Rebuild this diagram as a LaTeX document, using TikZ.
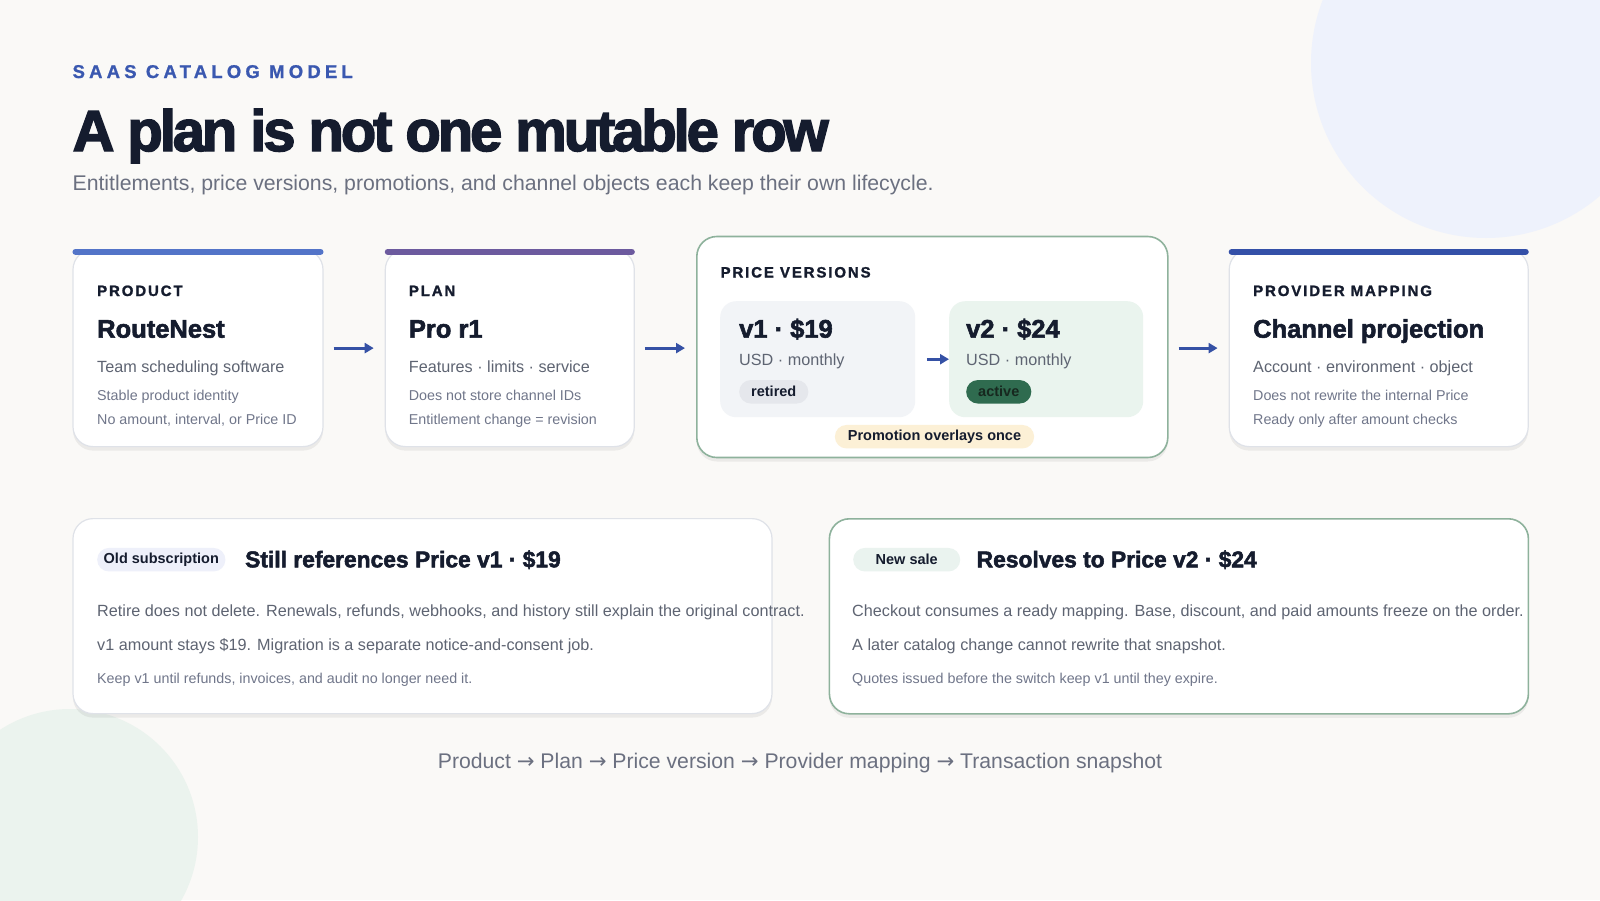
\documentclass[tikz,border=0pt]{standalone}
\usepackage{fontspec}
\setmainfont{Liberation Sans}
\newfontfamily\titlefont[BoldFeatures={FakeBold=2.5,LetterSpace=-5.4}]{Liberation Sans}
\newfontfamily\heavyfont[BoldFeatures={FakeBold=2.2}]{Liberation Sans}
\newfontfamily\trackfont[BoldFeatures={FakeBold=1.4,LetterSpace=12.5}]{Liberation Sans}
\newfontfamily\eyebrowfont[BoldFeatures={FakeBold=1,LetterSpace=22.7}]{Liberation Sans}
\newfontfamily\arrowfont{DejaVu Sans}
\newcommand\nextstep{{\arrowfont →}}
\usetikzlibrary{arrows.meta,shadows}

\definecolor{paper}{HTML}{FAF9F7}
\definecolor{ink}{HTML}{151C2E}
\definecolor{eyebrowblue}{HTML}{3A58B0}
\definecolor{subgray}{HTML}{6B7080}
\definecolor{bodygray}{HTML}{5E6472}
\definecolor{notegray}{HTML}{70768A}
\definecolor{cardline}{HTML}{DFE2E8}
\definecolor{sage}{HTML}{8EB29C}
\definecolor{barblue}{HTML}{5374C8}
\definecolor{barpurple}{HTML}{6C5A9E}
\definecolor{bardeep}{HTML}{3450A8}
\definecolor{flowblue}{HTML}{3551A5}
\definecolor{v1fill}{HTML}{F2F4F7}
\definecolor{v2fill}{HTML}{EAF4EE}
\definecolor{retiredfill}{HTML}{E5E7EC}
\definecolor{activefill}{HTML}{2F6B4F}
\definecolor{activeink}{HTML}{17281F}
\definecolor{promofill}{HTML}{FCF0D6}
\definecolor{oldfill}{HTML}{EEF0FA}
\definecolor{newfill}{HTML}{EAF3EF}
\definecolor{bluedisc}{HTML}{EEF2FC}
\definecolor{greendisc}{HTML}{EBF3EE}

\tikzset{
	card/.style={draw=cardline, line width=1.2pt, fill=white, rounded corners=20pt, anchor=north west, inner sep=0pt,
		drop shadow={shadow xshift=0pt, shadow yshift=-4pt, opacity=0.06, fill=black}},
	verbox/.style={rounded corners=16pt, anchor=north west, inner sep=0pt, minimum height=116pt},
	topbar/.style={line width=6.5pt, line cap=round},
	kicker/.style={anchor=base west, inner sep=0pt, text=ink, font=\trackfont\bfseries\fontsize{15}{15}\selectfont},
	headline/.style={anchor=base west, inner sep=0pt, text=ink, font=\heavyfont\bfseries\fontsize{25.5}{26}\selectfont},
	subhead/.style={anchor=base west, inner sep=0pt, text=ink, font=\heavyfont\bfseries\fontsize{22.8}{24}\selectfont},
	lead/.style={anchor=base west, inner sep=0pt, text=bodygray, font=\fontsize{16.2}{17}\selectfont},
	cardnote/.style={anchor=base west, inner sep=0pt, text=notegray, font=\fontsize{14.3}{15}\selectfont},
	pill/.style={anchor=west, rounded corners=11.7pt, minimum height=23.5pt, inner xsep=12pt, inner ysep=0pt,
		text=ink, font=\bfseries\fontsize{14.5}{15}\selectfont},
	flow/.style={-{Triangle[length=9pt,width=10pt]}, line width=3pt, color=flowblue, shorten <=10pt, shorten >=11pt},
}

\begin{document}
\begin{tikzpicture}[x=1pt,y=-1pt]
	\useasboundingbox (0,0) rectangle (1600,900);
	\fill[paper] (0,0) rectangle (1600,900);
	\begin{scope}
		\clip (0,0) rectangle (1600,900);
		\fill[bluedisc] (1486,63) circle[radius=175];
		\fill[greendisc] (70,837) circle[radius=128];
	\end{scope}

	% heading
	\node[anchor=base west, inner sep=0pt, text=eyebrowblue, font=\eyebrowfont\bfseries\fontsize{18.5}{20}\selectfont] (eyebrow) at (72.4,78) {SAAS CATALOG MODEL};
	\node[anchor=base west, inner sep=0pt, text=ink, font=\titlefont\bfseries\fontsize{58}{60}\selectfont] (title) at (72.4,151) {A plan is not one mutable row};
	\node[anchor=base west, inner sep=0pt, text=subgray, font=\fontsize{21.25}{23}\selectfont] (subtitle) at (72.4,190.8) {Entitlements, price versions, promotions, and channel objects each keep their own lifecycle.};

	% catalog chain
	\node[card, minimum width=250pt, minimum height=197pt] (product) at (72.4,249) {};
	\node[card, minimum width=249pt, minimum height=197pt] (plan) at (384.7,249) {};
	\node[card, draw=sage, line width=1.6pt, minimum width=471pt, minimum height=221pt] (prices) at (696,235.7) {};
	\node[card, minimum width=299pt, minimum height=197pt] (provider) at (1228.6,249) {};
	\draw[topbar, barblue] ([shift={(3.3,2.8)}]product.north west) -- ([shift={(-3.3,2.8)}]product.north east);
	\draw[topbar, barpurple] ([shift={(3.3,2.8)}]plan.north west) -- ([shift={(-3.3,2.8)}]plan.north east);
	\draw[topbar, bardeep] ([shift={(3.3,2.8)}]provider.north west) -- ([shift={(-3.3,2.8)}]provider.north east);

	\node[kicker] (productkind) at (97,296) {PRODUCT};
	\node[headline] (productname) at (97,337.7) {RouteNest};
	\node[lead] (productlead) at (97,372.4) {Team scheduling software};
	\node[cardnote] (productnoteA) at (97,400) {Stable product identity};
	\node[cardnote] (productnoteB) at (97,424.5) {No amount, interval, or Price ID};

	\node[kicker] (plankind) at (408.7,296) {PLAN};
	\node[headline] (planname) at (408.7,337.7) {Pro r1};
	\node[lead] (planlead) at (408.7,372.4) {Features · limits · service};
	\node[cardnote] (plannoteA) at (408.7,400) {Does not store channel IDs};
	\node[cardnote] (plannoteB) at (408.7,424.5) {Entitlement change = revision};

	\node[kicker] (pricekind) at (720.4,277.5) {PRICE VERSIONS};
	\node[verbox, fill=v1fill, minimum width=195pt] (v1) at (720,301) {};
	\node[verbox, fill=v2fill, minimum width=194pt] (v2) at (949,301) {};
	\node[headline] (v1price) at (739,337.7) {v1 · \$19};
	\node[lead] (v1cycle) at (739,365) {USD · monthly};
	\node[pill, fill=retiredfill] (v1state) at (739,391.8) {retired};
	\node[headline] (v2price) at (966,337.7) {v2 · \$24};
	\node[lead] (v2cycle) at (966,365) {USD · monthly};
	\node[pill, fill=activefill, text=activeink] (v2state) at (966,391.8) {active};
	\node[pill, fill=promofill, anchor=center, inner xsep=13pt] (promo) at (934.5,436.7) {Promotion overlays once};

	\node[kicker] (providerkind) at (1253,296) {PROVIDER MAPPING};
	\node[headline] (providername) at (1253,337.7) {Channel projection};
	\node[lead] (providerlead) at (1253,372.4) {Account · environment · object};
	\node[cardnote] (providernoteA) at (1253,400) {Does not rewrite the internal Price};
	\node[cardnote] (providernoteB) at (1253,424.5) {Ready only after amount checks};

	\path[flow]
		(product) edge (plan)
		(plan) edge (plan -| prices.west)
		(prices.east |- provider) edge (provider);
	\path[flow, shorten <=11.5pt, shorten >=0pt] (v1) edge (v2);

	% subscriptions
	\node[card, minimum width=699pt, minimum height=195pt] (oldcard) at (72.4,518) {};
	\node[card, draw=sage, line width=1.6pt, minimum width=699pt, minimum height=195pt] (newcard) at (828.6,518) {};

	\node[pill, fill=oldfill, inner xsep=6.5pt] (oldtag) at (97,559.7) {Old subscription};
	\node[subhead] (oldhead) at (245,567.3) {Still references Price v1 · \$19};
	\node[lead] (oldbodyA) at (97,616) {Retire does not delete. Renewals, refunds, webhooks, and history still explain the original contract.};
	\node[lead] (oldbodyB) at (97,650) {v1 amount stays \$19. Migration is a separate notice-and-consent job.};
	\node[cardnote] (oldbodyC) at (97,683.7) {Keep v1 until refunds, invoices, and audit no longer need it.};

	\node[pill, fill=newfill, minimum width=107pt] (newtag) at (853,559.7) {New sale};
	\node[subhead] (newhead) at (976.5,567.3) {Resolves to Price v2 · \$24};
	\node[lead] (newbodyA) at (852,616) {Checkout consumes a ready mapping. Base, discount, and paid amounts freeze on the order.};
	\node[lead] (newbodyB) at (852,650) {A later catalog change cannot rewrite that snapshot.};
	\node[cardnote] (newbodyC) at (852,683.7) {Quotes issued before the switch keep v1 until they expire.};

	\node[anchor=base, inner sep=0pt, text=subgray, font=\fontsize{21.2}{22}\selectfont] (trail) at (800,768) {Product \nextstep{} Plan \nextstep{} Price version \nextstep{} Provider mapping \nextstep{} Transaction snapshot};
\end{tikzpicture}
\end{document}
